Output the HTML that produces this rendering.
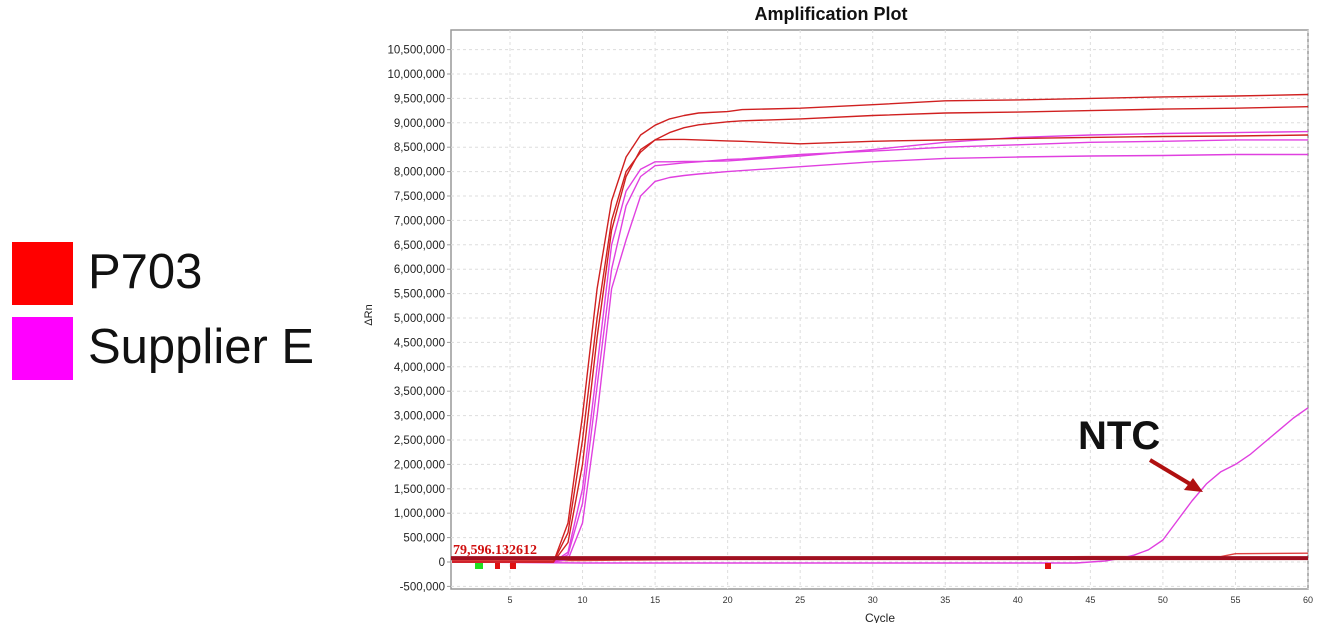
<!DOCTYPE html>
<html><head><meta charset="utf-8"><style>
html,body{margin:0;padding:0;background:#fff;}
body{width:1334px;height:623px;position:relative;overflow:hidden;font-family:"Liberation Sans",Arial,sans-serif;}
.sw{position:absolute;left:12px;width:61px;height:63px;}
.lt{position:absolute;left:88px;font-size:49px;color:#111;line-height:1;}
</style></head><body>
<div>
<div class="sw" style="top:242px;background:#ff0000"></div>
<div class="lt" style="top:248px">P703</div>
<div class="sw" style="top:317px;background:#ff00ff"></div>
<div class="lt" style="top:323px">Supplier E</div>
</div>
<svg id="chart" width="1334" height="623" style="position:absolute;left:0;top:0" xmlns="http://www.w3.org/2000/svg"></svg>
<script>
const xTicks=[5,10,15,20,25,30,35,40,45,50,55,60];
const yTicks=[-500000,0,500000,1000000,1500000,2000000,2500000,3000000,3500000,4000000,4500000,5000000,5500000,6000000,6500000,7000000,7500000,8000000,8500000,9000000,9500000,10000000,10500000];
const threshold=79596.132612;
const cyclesA=[1,8,9,10,11,12,13,14,15,16,17,18,20,21,25,30,35,40,45,50,55,60];
const red1=[0,0,800000,3000000,5600000,7400000,8300000,8750000,8950000,9080000,9150000,9200000,9230000,9270000,9300000,9370000,9450000,9470000,9500000,9530000,9550000,9580000];
const red2=[0,0,600000,2500000,5000000,7000000,8000000,8400000,8650000,8800000,8900000,8960000,9020000,9040000,9080000,9150000,9200000,9220000,9250000,9280000,9300000,9330000];
const red3=[0,0,400000,2000000,4600000,6800000,7900000,8450000,8650000,8660000,8660000,8650000,8630000,8620000,8570000,8620000,8650000,8680000,8700000,8720000,8730000,8750000];
const mag1=[0,0,200000,1500000,4000000,6500000,7600000,8050000,8200000,8200000,8210000,8210000,8220000,8240000,8320000,8450000,8600000,8700000,8750000,8780000,8800000,8820000];
const mag2=[0,0,150000,1200000,3600000,6000000,7300000,7900000,8120000,8150000,8180000,8200000,8250000,8260000,8350000,8420000,8500000,8550000,8600000,8620000,8650000,8650000];
const mag3=[0,0,50000,800000,3000000,5600000,6600000,7500000,7800000,7880000,7920000,7950000,8000000,8020000,8100000,8200000,8270000,8300000,8320000,8330000,8350000,8350000];
const cyclesN=[1,10,20,30,40,44,46,47,48,49,50,51,52,53,54,55,56,57,58,59,60];
const ntc=[0,-20000,-20000,-20000,-20000,-20000,20000,70000,140000,250000,450000,850000,1250000,1600000,1850000,2000000,2200000,2450000,2700000,2950000,3160000];
const cyclesL=[1,10,20,30,40,45,50,54,55,60];
const redLow=[30000,30000,60000,80000,100000,110000,110000,110000,170000,180000];

const svg=document.getElementById('chart');const NS='http://www.w3.org/2000/svg';
const L=451,R=1308,T=30,B=589;
function X(c){return 510+(c-5)*(R-510)/55;}
function Y(v){return 562-v/500000*24.4;}
function mk(t,a,p){const e=document.createElementNS(NS,t);for(const k in a)e.setAttribute(k,a[k]);(p||svg).appendChild(e);return e;}
const frame=mk('rect',{x:L,y:T,width:R-L,height:B-T,fill:'#fff',stroke:'#999','stroke-width':1.5});


xTicks.forEach(c=>{
 const g=mk('line',{x1:X(c),x2:X(c),y1:T,y2:B,stroke:'#ddd','stroke-dasharray':'3,3'});
 
 
 const t=mk('text',{x:X(c),y:B+14,'font-size':9,'text-anchor':'middle',fill:'#333'});t.textContent=c;
 
 
});
yTicks.forEach(v=>{
 const g=mk('line',{x1:L,x2:R,y1:Y(v),y2:Y(v),stroke:'#ddd','stroke-dasharray':'3,3'});
 
 
 mk('line',{x1:L-4,x2:L,y1:Y(v),y2:Y(v),stroke:'#999'});
 const t=mk('text',{x:L-6,y:Y(v)+4,'font-size':11.5,'text-anchor':'end',fill:'#222'});t.textContent=v.toLocaleString('en-US');
 
 
});
function line(xs,ys,col,name){
 const d=xs.map((c,i)=>(i?'L':'M')+X(c).toFixed(1)+','+Y(ys[i]).toFixed(1)).join(' ');
 const p=mk('path',{d:d,fill:'none',stroke:col,'stroke-width':1.4,'stroke-linejoin':'round'});
 
 
}
line(cyclesL,redLow,'#e04040','series-red-baseline');
line(cyclesA,mag3,'#e040e0','series-supplier-e-3');
line(cyclesA,mag2,'#e040e0','series-supplier-e-2');
line(cyclesA,mag1,'#e040e0','series-supplier-e-1');
line(cyclesN,ntc,'#e040e0','series-ntc');
line(cyclesA,red3,'#d02020','series-p703-3');
line(cyclesA,red2,'#d02020','series-p703-2');
line(cyclesA,red1,'#d02020','series-p703-1');
const th=mk('line',{x1:L,x2:R,y1:Y(threshold),y2:Y(threshold),stroke:'#a01020','stroke-width':4});


const tl=mk('text',{x:L+2,y:Y(threshold)-4,'font-size':14,'font-weight':'bold','font-family':'Liberation Serif,serif',fill:'#d01010'});tl.textContent=threshold.toLocaleString('en-US',{maximumFractionDigits:6});


[[475,'#20e020',8],[495,'#e01010',5],[510,'#e01010',6],[1045,'#e01010',6]].forEach(m=>{
 const r=mk('rect',{x:m[0],y:563,width:m[2],height:6,fill:m[1]});
 
 
});
const title=mk('text',{x:831,y:20,'font-size':18,'font-weight':'bold','text-anchor':'middle',fill:'#111'});title.textContent='Amplification Plot';


const yt=mk('text',{x:0,y:0,'font-size':11,'text-anchor':'middle',fill:'#222',transform:'translate(372,315) rotate(-90)'});yt.textContent='ΔRn';


const xt=mk('text',{x:880,y:622,'font-size':12,'text-anchor':'middle',fill:'#222'});xt.textContent='Cycle';


const nt=mk('text',{x:1078,y:449,'font-size':40,'font-weight':'bold',fill:'#111'});nt.textContent='NTC';


const ar=mk('path',{d:'M1150,460 L1195,487',stroke:'#b01010','stroke-width':4,fill:'none'});


const ah=mk('path',{d:'M1203,492 L1184,490 L1193,478 Z',fill:'#b01010'});


</script>
</body></html>
